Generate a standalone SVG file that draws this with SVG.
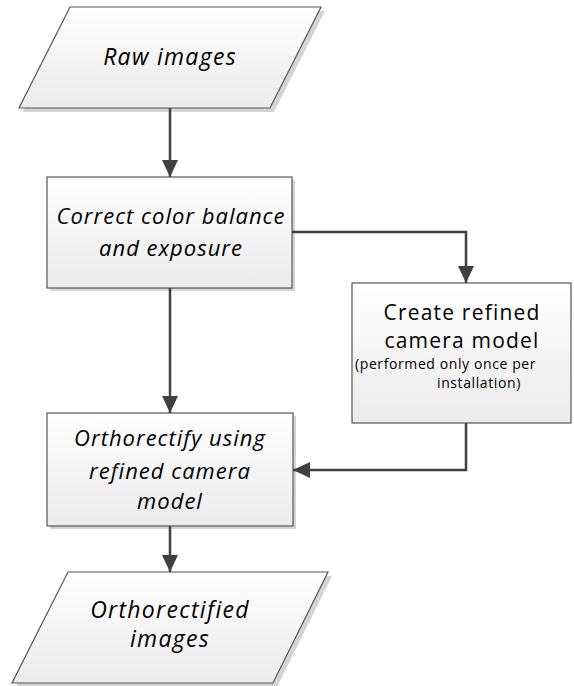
<svg xmlns="http://www.w3.org/2000/svg" width="574" height="686" viewBox="0 0 574 686">
<defs>
<linearGradient id="g" x1="0" y1="0" x2="0" y2="1">
<stop offset="0" stop-color="#ffffff"/>
<stop offset="1" stop-color="#ebebeb"/>
</linearGradient>
<marker id="ah" markerWidth="16" markerHeight="18" refX="17" refY="8" orient="auto" markerUnits="userSpaceOnUse">
<path d="M0,0 L17,8 L0,16 Z" fill="#404040"/>
</marker>
<style>
.shape{fill:url(#g);stroke:#555555;stroke-width:1.2}
.shadow{fill:#d4d4d4;stroke:none}
.t{font-family:"Open Sans","Liberation Sans",sans-serif;font-size:22px;letter-spacing:1px;font-weight:400;fill:#000;text-anchor:middle}
.i{font-style:italic}
.p{font-size:23px;letter-spacing:1.3px}
.m{font-size:21px;letter-spacing:1.2px}
.s{font-size:14px;letter-spacing:0.6px;text-anchor:start}
.c{fill:none;stroke:#404040;stroke-width:2.5}
</style>
</defs>
<rect width="574" height="686" fill="#ffffff"/>
<g id="raw-images">
<polygon class="shadow" points="74,11 325,11 274,112 23,112"/>
<polygon class="shape" points="70,7 321,7 270,108 19,108"/>
<text class="t i p" x="170" y="65">Raw images</text>
</g>
<g id="correct-color">
<rect class="shadow" x="50" y="180" width="245" height="111"/>
<rect class="shape" x="47" y="177" width="245" height="111"/>
<text class="t i" x="171" y="224">Correct color balance</text>
<text class="t i" x="171" y="256">and exposure</text>
</g>
<g id="create-camera-model">
<rect class="shape" x="352" y="283" width="219" height="140"/>
<text class="t m" x="462" y="320">Create refined</text>
<text class="t m" x="462" y="348">camera model</text>
<text class="t s" x="355" y="369">(performed only once per</text>
<text class="t s" x="437" y="388">installation)</text>
</g>
<g id="orthorectify">
<rect class="shadow" x="50" y="416" width="246" height="113"/>
<rect class="shape" x="47" y="413" width="246" height="113"/>
<text class="t i" x="170" y="446">Orthorectify using</text>
<text class="t i" x="170" y="479">refined camera</text>
<text class="t i" x="170" y="509">model</text>
</g>
<g id="orthorectified-images">
<polygon class="shadow" points="72,576 332,576 277,687 16,687"/>
<polygon class="shape" points="68,572 328,572 273,683 12,683"/>
<text class="t i p" x="170" y="618">Orthorectified</text>
<text class="t i p" x="170" y="647">images</text>
</g>
<g id="connectors">
<path class="c" d="M170,108 V177" marker-end="url(#ah)"/>
<path class="c" d="M292,232 H466 V283" marker-end="url(#ah)"/>
<path class="c" d="M170,288 V413" marker-end="url(#ah)"/>
<path class="c" d="M466,423 V470 H293" marker-end="url(#ah)"/>
<path class="c" d="M170,526 V572" marker-end="url(#ah)"/>
</g>
</svg>
